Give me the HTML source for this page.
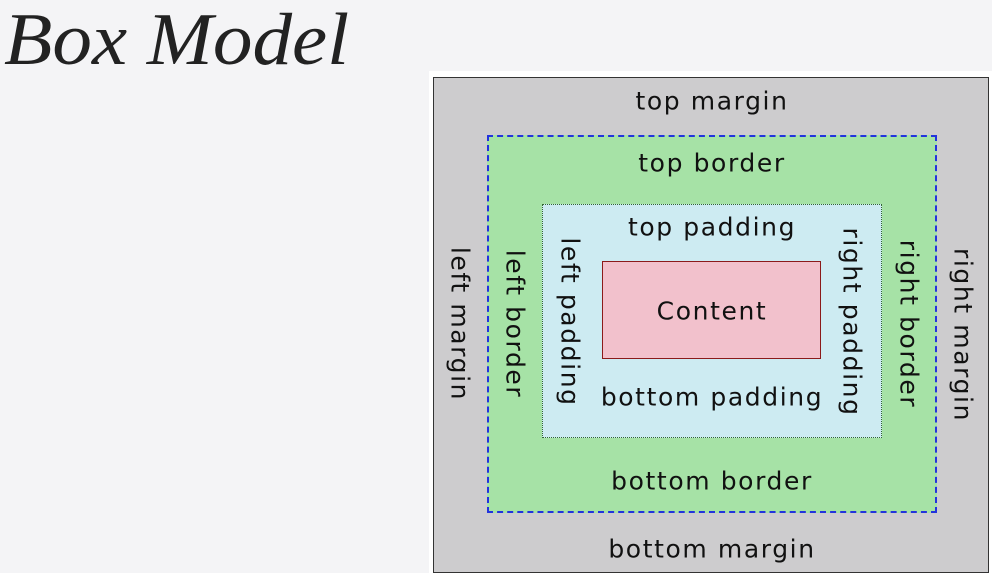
<!DOCTYPE html>
<html><head><meta charset="utf-8"><style>
body{margin:0;width:992px;height:573px;background:#f4f4f6;position:relative;overflow:hidden;font-family:"DejaVu Sans","Liberation Sans",sans-serif;}
.t{position:absolute;font-family:"Liberation Serif",serif;font-style:italic;font-size:74px;left:4px;top:3px;color:#222;line-height:1;transform-origin:0 0;transform:scaleX(1.07);}
.b{position:absolute;box-sizing:border-box;}
.l{position:absolute;font-size:25px;letter-spacing:1.6px;color:#111;white-space:nowrap;transform:translate(-50%,-50%);line-height:1;}
.v{transform:translate(-50%,-50%) rotate(90deg);}
</style></head><body>
<div class="t">Box Model</div>
<div class="b" style="left:429px;top:71px;width:563px;height:502px;background:#fff"></div>
<div class="b" style="left:433px;top:77px;width:556px;height:496px;background:#cdccce;border:1.5px solid #333"></div>
<div class="b" style="left:487px;top:135px;width:450px;height:378px;background:#a6e2a6;border:2px dashed #2233dd"></div>
<div class="b" style="left:542px;top:204px;width:340px;height:234px;background:#cdebf2;border:1.5px dotted #336633"></div>
<div class="b" style="left:602px;top:261px;width:219px;height:98px;background:#f2c1cc;border:1.5px solid #8b1a1a"></div>
<div class="l" style="left:712px;top:101px">top margin</div>
<div class="l" style="left:712px;top:163px">top border</div>
<div class="l" style="left:712px;top:227px">top padding</div>
<div class="l" style="left:712px;top:311px">Content</div>
<div class="l" style="left:712px;top:397px">bottom padding</div>
<div class="l" style="left:712px;top:481px">bottom border</div>
<div class="l" style="left:712px;top:549px">bottom margin</div>
<div class="l v" style="left:460px;top:324px">left margin</div>
<div class="l v" style="left:515px;top:324px">left border</div>
<div class="l v" style="left:570px;top:322px">left padding</div>
<div class="l v" style="left:852px;top:322px">right padding</div>
<div class="l v" style="left:909px;top:324px">right border</div>
<div class="l v" style="left:963px;top:335px">right margin</div>
</body></html>
